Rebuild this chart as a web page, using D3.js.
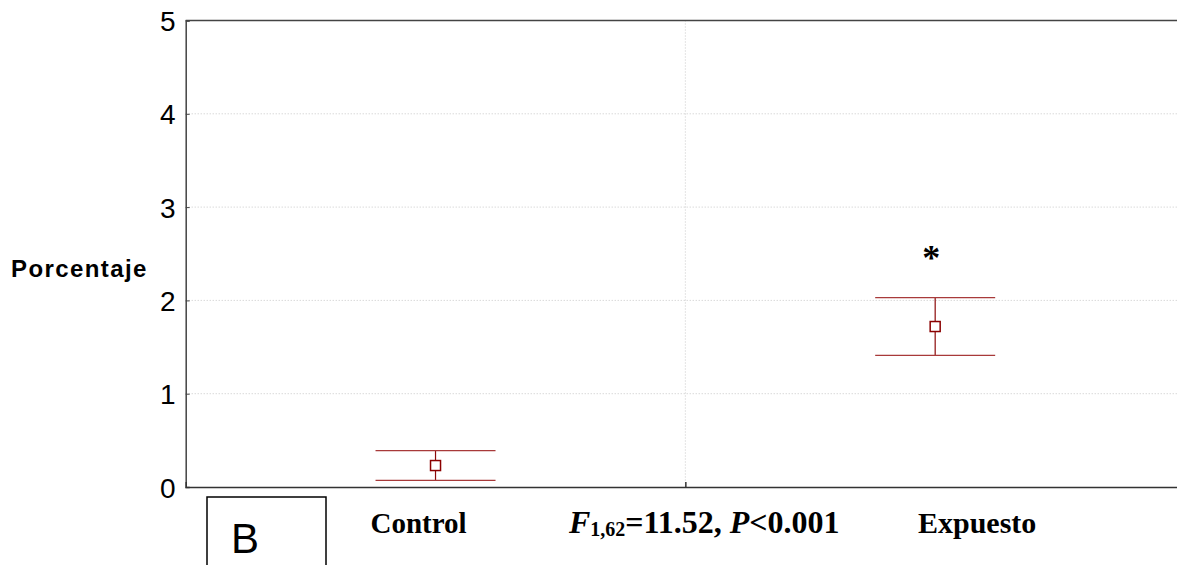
<!DOCTYPE html>
<html><head><meta charset="utf-8">
<script src="https://cdn.jsdelivr.net/npm/d3@7"></script>
<style>body{margin:0;background:#fff}svg{display:block}</style>
</head><body>
<svg id="c" width="1177" height="565"></svg>
<script>
const categories = ["Control", "Expuesto"];
const categoryPos = [1, 2];
const means = [0.23, 1.72];
const upper = [0.39, 2.03];
const lower = [0.07, 1.41];
const yTicks = [0, 1, 2, 3, 4, 5];
const xGrid = [1.5];
const starCategory = "Expuesto";

const svg = d3.select("#c");
const L = 185.7, R = 1185, T = 20.5, B = 487;
const x = d3.scaleLinear().domain([0.5, 2.5]).range([L, R]);
const y = d3.scaleLinear().domain([0, 5]).range([B, T]);

// gridlines
svg.append("g").selectAll("line").data(yTicks.filter(d => d > 0 && d < 5)).join("line")
  .attr("x1", L).attr("x2", R).attr("y1", d => y(d)).attr("y2", d => y(d))
  .attr("stroke", "#c8c8c8").attr("stroke-width", 1).attr("stroke-dasharray", "1,2");
svg.append("g").selectAll("line").data(xGrid).join("line")
  .attr("x1", d => x(d)).attr("x2", d => x(d)).attr("y1", T).attr("y2", B)
  .attr("stroke", "#c8c8c8").attr("stroke-width", 1).attr("stroke-dasharray", "1,2");

// axes
const yAxis = d3.axisLeft(y).tickValues(yTicks).tickSize(-4).tickPadding(10).tickFormat(d3.format("d"));
const gy = svg.append("g").attr("transform", `translate(${L},0)`).call(yAxis);
gy.select(".domain").attr("stroke", "#444").attr("stroke-width", 1.5);
gy.selectAll(".tick line").attr("stroke", "#444");
gy.selectAll("text").attr("font-family", "Liberation Sans, Arial, sans-serif").attr("font-size", 28).attr("fill", "#000").attr("dy", "0.36em");

const xAxis = d3.axisBottom(x).tickValues(xGrid).tickSize(-5).tickFormat("");
const gx = svg.append("g").attr("transform", `translate(0,${B})`).call(xAxis);
gx.select(".domain").attr("stroke", "#333").attr("stroke-width", 1.5);
gx.selectAll(".tick line").attr("stroke", "#333").attr("stroke-width", 1.5);

// top frame
svg.append("line").attr("x1", L).attr("x2", R).attr("y1", y(5)).attr("y2", y(5))
  .attr("stroke", "#444").attr("stroke-width", 1.5);

// error bars
const data = categories.map((c, i) => ({c, p: categoryPos[i], m: means[i], u: upper[i], l: lower[i]}));
const eb = svg.append("g").selectAll("g").data(data).join("g");
const capHalf = 60;
eb.append("line").attr("x1", d => x(d.p)).attr("x2", d => x(d.p)).attr("y1", d => y(d.u)).attr("y2", d => y(d.l))
  .attr("stroke", "#8b0a0a").attr("stroke-width", 1.2);
eb.append("line").attr("x1", d => x(d.p) - capHalf).attr("x2", d => x(d.p) + capHalf).attr("y1", d => y(d.u)).attr("y2", d => y(d.u))
  .attr("stroke", "#a83a3a").attr("stroke-width", 1.3);
eb.append("line").attr("x1", d => x(d.p) - capHalf).attr("x2", d => x(d.p) + capHalf).attr("y1", d => y(d.l)).attr("y2", d => y(d.l))
  .attr("stroke", "#a83a3a").attr("stroke-width", 1.3);
eb.append("rect").attr("x", d => x(d.p) - 5).attr("y", d => y(d.m) - 5).attr("width", 10).attr("height", 10)
  .attr("fill", "#fff").attr("stroke", "#8b0000").attr("stroke-width", 1.5);

// asterisk
const si = categories.indexOf(starCategory);
svg.append("text").attr("x", x(categoryPos[si]) - 4).attr("y", y(upper[si]) - 28)
  .attr("text-anchor", "middle").attr("font-family", "Liberation Serif, Times New Roman, serif")
  .attr("font-weight", "bold").attr("font-size", 36).text("*");

// category labels
const labelDx = [-17, 42];
const labelSize = [29, 30];
svg.append("g").selectAll("text").data(data).join("text")
  .attr("x", (d, i) => x(d.p) + labelDx[i]).attr("y", 533)
  .attr("text-anchor", "middle").attr("font-family", "Liberation Serif, Times New Roman, serif")
  .attr("font-weight", "bold").attr("font-size", (d, i) => labelSize[i]).text(d => d.c);

// statistic
const st = svg.append("text").attr("x", 569).attr("y", 533)
  .attr("font-family", "Liberation Serif, Times New Roman, serif").attr("font-weight", "bold").attr("font-size", 32);
st.append("tspan").attr("font-style", "italic").text("F");
st.append("tspan").attr("font-size", 20).attr("dy", 3).text("1,62");
st.append("tspan").attr("dy", -3).text("=11.52, ");
st.append("tspan").attr("font-style", "italic").text("P");
st.append("tspan").text("<0.001");

// y title
svg.append("text").attr("x", 11).attr("y", 277)
  .attr("font-family", "Liberation Sans, Arial, sans-serif").attr("font-weight", "bold")
  .attr("font-size", 24).attr("letter-spacing", 1.4).text("Porcentaje");

// B box
svg.append("rect").attr("x", 207).attr("y", 497).attr("width", 119).attr("height", 80)
  .attr("fill", "none").attr("stroke", "#000").attr("stroke-width", 1.5);
svg.append("text").attr("x", 231).attr("y", 553)
  .attr("font-family", "Liberation Sans, Arial, sans-serif").attr("font-size", 42).text("B");
</script>
</body></html>
